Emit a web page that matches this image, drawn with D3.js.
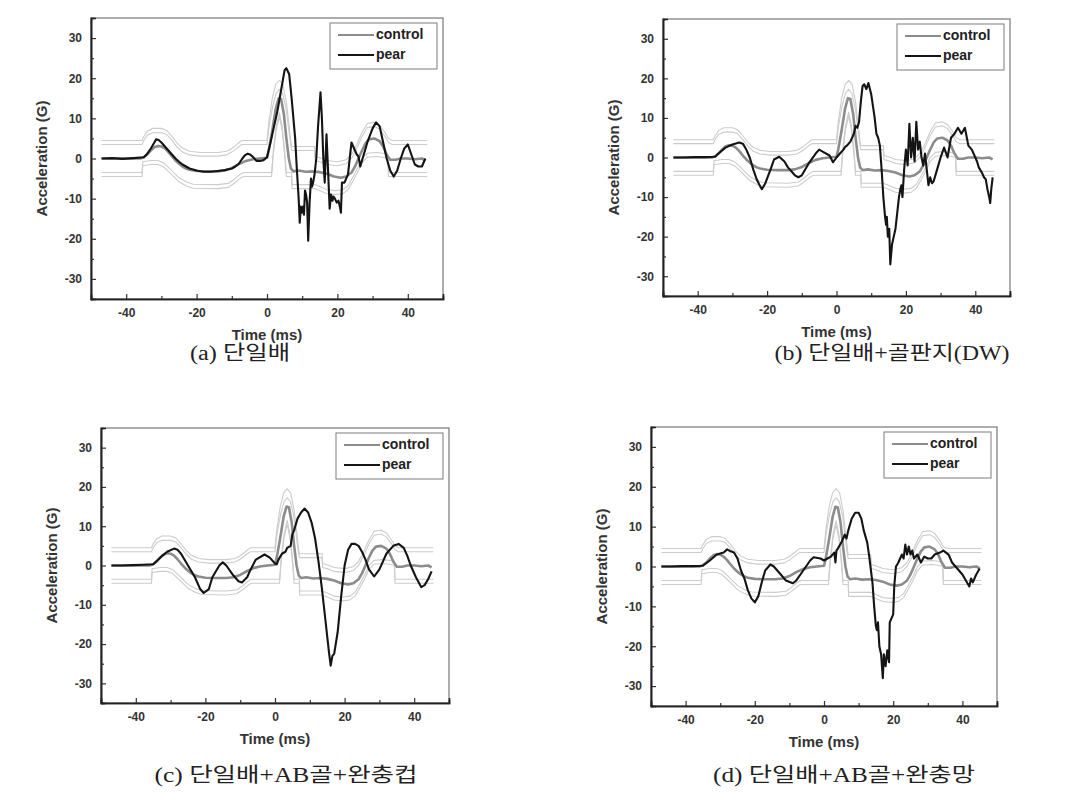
<!DOCTYPE html>
<html><head><meta charset="utf-8">
<script src="https://cdn.jsdelivr.net/npm/d3@7"></script>
<style>body{margin:0;background:#fff} svg{display:block}</style>
</head><body>
<svg id="c" width="1090" height="804"></svg>
<script>
// ---------- data ----------
const xTicks = [-40, -20, 0, 20, 40];
const xMinor = [-30, -10, 10, 30];
const yTicks = [-30, -20, -10, 0, 10, 20, 30];
const yMinor = [-25, -15, -5, 5, 15, 25];
const seriesNames = ["control", "pear"];
const xTitle = "Time (ms)";
const yTitle = "Acceleration (G)";
const captions = ["(a) 단일배", "(b) 단일배+골판지(DW)", "(c) 단일배+AB골+완충컵", "(d) 단일배+AB골+완충망"];

const control = [[-47,0],[-36,0],[-35,0.3],[-34,1],[-33,2],[-32,2.8],[-31,3.1],[-30,3],[-29,2.5],[-28,1.6],[-27,0.5],[-26,-0.5],[-25,-1.3],[-24,-2],[-23,-2.5],[-22,-2.8],[-20,-3.1],[-17,-3.2],[-14,-3.2],[-12,-3],[-10,-2.4],[-8,-1.4],[-6,-0.6],[-4,-0.2],[-2,0],[0,0.2],[0.5,2],[1.5,7],[2.5,12.5],[3.3,15],[4,14.8],[4.8,11],[5.5,5],[6.2,0],[6.8,-2.5],[7.5,-3.2],[9,-3],[11,-3.3],[13,-3.2],[15,-3.4],[17,-3.8],[19,-4.5],[21,-4.8],[22.5,-4.5],[24,-3.5],[25,-2],[26,0],[27,2],[28,3.8],[29,4.8],[30.5,5],[32,4.3],[33,3],[34,1],[35,-0.3],[36.5,-0.3],[38,0],[40,0],[42,-0.2],[44,0],[45,-0.5]];

const upperOuter = [[-47,4.5],[-35.5,4.5],[-35,5.5],[-34,6.8],[-32.5,7.5],[-30,7.5],[-28.5,7],[-27,5.5],[-25.5,3.8],[-24,2.6],[-22,1.8],[-19,1.5],[-14,1.5],[-11.5,1.8],[-10,2.5],[-8.5,3.5],[-7.5,4.3],[-7,4.5],[0,4.5],[0.5,9],[1.5,15],[2.5,18.5],[3.5,19.5],[4.5,18.5],[5.5,14],[6.3,8],[6.8,4],[7,3],[13.5,3],[13.7,0.5],[15,0.2],[17,-0.5],[20,-0.8],[22.5,-0.3],[24,1],[25.5,3.5],[27,6.5],[28.5,8.7],[30.5,9],[32,8.3],[33.5,6.5],[34.5,5],[35.5,4.5],[45.5,4.5]];
const upperInner = [[-47,3.5],[-35.5,3.5],[-35,4.5],[-34,5.8],[-32.5,6.4],[-30,6.4],[-28.5,6],[-27,4.5],[-25.5,2.8],[-24,1.6],[-22,0.9],[-19,0.6],[-14,0.6],[-11.5,0.9],[-10,1.6],[-8.5,2.6],[-7.5,3.3],[-7,3.5],[0,3.5],[0.6,8],[1.6,13],[2.6,16.3],[3.5,17.2],[4.4,16.3],[5.4,12.5],[6.2,7],[6.7,3.5],[7,2],[13.5,2],[13.7,-0.5],[15,-0.8],[17,-1.5],[20,-1.8],[22.5,-1.3],[24,0],[25.5,2.5],[27,5.5],[28.5,7.7],[30.5,8],[32,7.3],[33.5,5.5],[34.5,4],[35.5,3.5],[45.5,3.5]];
const lowerInner = [[-47,-3.5],[-35.5,-3.5],[-35.3,-0.8],[-33,-0.5],[-31,-0.5],[-29.5,-1],[-28,-2.2],[-26.5,-3.5],[-25,-4.8],[-23,-5.8],[-21,-6.4],[-14,-6.5],[-11,-6.2],[-9.5,-5.3],[-8,-4.2],[-7,-3.6],[-6.5,-3.5],[0,-3.5],[1.3,-3.5],[1.8,2],[2.6,8],[3.5,11.5],[4.3,8],[5,2],[5.5,-3.5],[7,-3.5],[7.1,-6.5],[13.5,-6.5],[15,-7],[17,-7.8],[19.5,-8],[21.5,-7.8],[23,-6.8],[24.5,-4.5],[26,-2],[27,0],[28.5,1.3],[31,1.5],[33,1.3],[34.3,1],[34.5,-3.5],[45.5,-3.5]];
const lowerOuter = [[-47,-4.5],[-35.5,-4.5],[-35.3,-1.8],[-33,-1.5],[-31,-1.5],[-29.5,-2],[-28,-3.2],[-26.5,-4.5],[-25,-5.8],[-23,-6.8],[-21,-7.4],[-14,-7.5],[-11,-7.2],[-9.5,-6.3],[-8,-5.2],[-7,-4.6],[-6.5,-4.5],[0,-4.5],[1.3,-4.5],[1.8,1],[2.6,7],[3.5,10.5],[4.3,7],[5,1],[5.5,-4.5],[7,-4.5],[7.1,-7.5],[13.5,-7.5],[15,-8],[17,-8.8],[19.5,-9],[21.5,-8.8],[23,-7.8],[24.5,-5.5],[26,-3],[27,-1],[28.5,0.3],[31,0.5],[33,0.3],[34.3,0],[34.5,-4.5],[45.5,-4.5]];

const pearA = [[-47,0],[-44,0.1],[-41,-0.1],[-38,0.1],[-35,0.3],[-34,1.2],[-33,2.5],[-32,4],[-31.5,4.8],[-30.8,4.6],[-30,4],[-29,3],[-28,2],[-27,1],[-26,0],[-25,-0.8],[-24,-1.5],[-22,-2.5],[-20,-3],[-18,-3.3],[-16,-3.3],[-14,-3.1],[-12,-2.9],[-10,-2.5],[-9,-2],[-8,-1.3],[-7,0],[-6.3,0.8],[-5.5,1.2],[-4.8,1],[-4,0.4],[-3,-0.6],[-2,-0.6],[-1,-0.4],[0,0.3],[1,4],[2,8],[3,12],[4,17],[5,22],[5.5,22.5],[6.3,21],[7,15],[8,5],[8.5,-3],[9,-10],[9.3,-16],[9.6,-12],[9.9,-13.5],[10.2,-12],[10.5,-14],[10.8,-8],[11.1,-9],[11.4,-11],[11.7,-20.5],[12.1,-11],[12.5,-5],[12.8,-7],[13.1,-6],[13.5,-4],[14,0],[14.5,8],[15.2,16.5],[15.6,10],[16,0],[16.4,-6],[16.9,6],[17.3,-2],[17.8,-12.5],[18.2,-9],[18.6,-10.5],[18.9,-9.5],[19.3,-10],[19.8,-11],[20.3,-10.5],[20.7,-12],[21,-13.5],[21.3,-6],[22,-6],[23,-4],[24,4],[24.5,3],[25,2],[25.5,1],[26,0.5],[26.5,-2],[27.5,1],[28.5,4],[30,7.5],[31,9],[32,8],[33,4],[34,0],[35,-3],[36,-4.5],[37,-3],[38,0],[39,2.5],[40,3.5],[41,1],[42,-1.5],[43,-2],[44,-2],[44.5,-1],[45,0]];

const pearB = [[-47,0],[-44,0],[-41,0.1],[-38,0.1],[-35,0.2],[-34,1],[-32,2.5],[-30,3.3],[-28,3.8],[-27,3.5],[-26,2],[-25,0],[-24,-3],[-23,-5.5],[-22,-7.3],[-21.5,-8],[-20.5,-6.5],[-19,-3],[-18,-0.5],[-16.5,0.2],[-15,-1],[-14,-2.5],[-12,-4.5],[-11,-5],[-10,-4.5],[-8,-1.5],[-6,1],[-5,2],[-4,1.5],[-2,0.5],[-1,-1.2],[0,0],[1,1],[2,2],[2.5,2.7],[3,3],[4,4],[5,6],[5.5,8],[6,7.5],[6.5,9],[7,14],[7.5,18],[8,18.5],[8.6,17.3],[9.2,18.8],[10,16],[11,10],[11.5,6],[12,5],[12.5,3],[13,-3],[13.5,-10],[14,-15],[14.3,-17],[14.5,-15],[14.8,-20],[15.2,-18],[15.5,-27],[16,-22],[16.5,-20],[17,-18],[17.5,-14],[18,-10],[18.4,-8],[18.7,-7],[19,-10],[19.5,-3],[20,2],[20.5,-2],[21,8.5],[21.5,0],[22,5],[22.5,-1],[23,9],[23.5,2],[24,4],[24.5,0],[25,-2],[25.5,1],[26,-3],[26.5,-7],[27,-5],[27.5,-6.5],[28,-6],[29,-3],[30,0],[31,2.5],[32,0],[33,5],[34,6],[35,7.5],[36,6],[37,7.5],[38,3],[39,2],[40,0],[40.5,-1],[41,-2.5],[42,-4],[42.5,-5],[43,-5.5],[43.5,-8],[44,-10],[44.3,-11.5],[44.6,-8],[45,-5]];

const pearC = [[-47,0],[-44,0],[-41,0.1],[-38,0.2],[-35,0.3],[-33,2],[-31,3.5],[-29,4.3],[-28,4],[-27,3],[-25,0],[-23,-3],[-21.5,-6],[-20.5,-7],[-19,-6],[-18,-3],[-16,0],[-15,0.8],[-14,0],[-12,-2.5],[-10.5,-4],[-9.5,-4.3],[-8,-3],[-7,-1],[-5.5,1.5],[-3,2.8],[-1.5,2],[0,0.5],[0.5,0.3],[1,1.5],[2,3],[3,3.5],[3.5,4.5],[4.5,5],[5,8],[5.5,9],[6,10.5],[6.5,12],[7.5,13.5],[8.5,14.5],[9.5,13.5],[10.5,11],[11.5,7],[12.5,1],[13.5,-6],[14.5,-14],[15.5,-22],[16,-25.5],[16.5,-23],[17,-22.5],[18,-17],[19,-8],[20,0],[21,4],[22,5.5],[23,5.5],[24,5],[25,3.5],[26,1.5],[27,-1],[28.5,-2.8],[30,-1],[31,1],[32,3],[34,5],[35.5,5.5],[37,4.5],[38,2.5],[39,0],[40.5,-3],[42,-5.5],[43,-5],[44,-3.5],[45,-1.5]];

const pearD = [[-47,0],[-44,0],[-41,0.1],[-38,0.1],[-35,0.2],[-33,1.5],[-31,3],[-29,3.5],[-28,4.3],[-27,3.8],[-26,3.5],[-25,2],[-24,-1],[-23,-3],[-22,-6],[-21,-8],[-20,-9],[-19,-7.5],[-18,-4],[-17,-1],[-15.5,0.5],[-14.5,0],[-13,-1.5],[-11,-3.5],[-9,-4.2],[-8,-3.5],[-6,-1],[-4,1.5],[-3,2.3],[-1,2],[0,1.5],[1,2],[2,2.5],[3,3.5],[3.3,1],[3.6,4],[4,4.5],[5,6],[6,8],[6.5,7],[7,9],[8,12],[9,13.5],[10,13.5],[10.8,12],[11.5,9],[12.5,6],[13,3],[14,-4],[14.5,-10],[15,-15],[15.3,-16],[15.6,-14],[16,-20],[16.5,-22],[17,-28],[17.3,-22],[17.8,-25],[18.3,-21],[18.8,-24],[19,-14],[19.5,-13],[20,-12],[20.3,-5],[20.8,0],[21.5,1],[22,2],[22.5,3],[23,2],[23.5,5.5],[24,3],[24.5,5],[25,3],[25.5,4],[26,2],[27,3],[28,1],[29,2.5],[30,2],[31,2],[32,3],[33.5,3.5],[34.5,4],[36,3],[37,1],[38,0],[39,-1],[40,-2],[41,-3.5],[42,-5],[42.5,-3],[43,-4],[44,-2],[45,-0.5]];

const pears = [pearA, pearB, pearC, pearD];

// ---------- layout (pixels) ----------
const panels = [
  {x0: 91,  x1: 443, y0: 18,  y1: 299, cap: [240, 355], capW: 100},
  {x0: 663, x1: 1010, y0: 19, y1: 296, cap: [892, 355], capW: 235},
  {x0: 101, x1: 449, y0: 428, y1: 703, cap: [286, 777], capW: 263},
  {x0: 651, x1: 997, y0: 427, y1: 706, cap: [844, 777], capW: 262}
];

const svg = d3.select("#c");
const tickFont = "Arial, 'Liberation Sans', sans-serif";

panels.forEach((p, i) => {
  const x = d3.scaleLinear().domain([-50, 50]).range([p.x0, p.x1]);
  const y = d3.scaleLinear().domain([-35, 35]).range([p.y1, p.y0]);
  const g = svg.append("g");
  const line = d3.line().x(d => x(d[0])).y(d => y(d[1]));

  // frame
  g.append("rect").attr("x", p.x0).attr("y", p.y0).attr("width", p.x1 - p.x0).attr("height", p.y1 - p.y0)
    .attr("fill", "none").attr("stroke", "#777").attr("stroke-width", 1.2);

  // corridor lines
  [upperOuter, upperInner, lowerInner, lowerOuter].forEach(c => {
    g.append("path").attr("d", line(c)).attr("fill", "none").attr("stroke", "#cccccc").attr("stroke-width", 1.1);
  });
  // control
  g.append("path").attr("d", line(control)).attr("fill", "none").attr("stroke", "#8c8c8c").attr("stroke-width", 2.6).attr("stroke-linejoin", "round");
  // pear
  g.append("path").attr("d", line(pears[i])).attr("fill", "none").attr("stroke", "#141414").attr("stroke-width", 2.1).attr("stroke-linejoin", "round");

  // axes
  const fmt = d => String(d);
  const xAx = g.append("g").attr("transform", `translate(0,${p.y1})`)
    .call(d3.axisBottom(x).tickValues(xTicks).tickSize(-5).tickPadding(9).tickFormat(fmt));
  const xAxMinor = g.append("g").attr("transform", `translate(0,${p.y1})`)
    .call(d3.axisBottom(x).tickValues(xMinor).tickSize(-3).tickFormat(""));
  const yAx = g.append("g").attr("transform", `translate(${p.x0},0)`)
    .call(d3.axisLeft(y).tickValues(yTicks).tickSize(-5).tickPadding(9).tickFormat(fmt));
  const yAxMinor = g.append("g").attr("transform", `translate(${p.x0},0)`)
    .call(d3.axisLeft(y).tickValues(yMinor).tickSize(-3).tickFormat(""));
  [xAx, xAxMinor, yAx, yAxMinor].forEach(a => {
    a.select(".domain").attr("stroke", "#222").attr("stroke-width", 1.6);
    a.selectAll(".tick line").attr("stroke", "#333").attr("stroke-width", 1.2);
    a.selectAll(".tick text").attr("font-family", tickFont).attr("font-weight", "bold").attr("font-size", 12).attr("fill", "#333");
  });

  // titles
  g.append("text").attr("x", (p.x0 + p.x1) / 2).attr("y", p.y1 + 37)
    .attr("text-anchor", "middle").attr("dominant-baseline", "middle")
    .attr("font-family", tickFont).attr("font-weight", "bold").attr("font-size", 15).attr("fill", "#333").text(xTitle);
  g.append("text").attr("transform", `translate(${p.x0 - 48},${(p.y0 + p.y1) / 2}) rotate(-90)`)
    .attr("text-anchor", "middle").attr("dominant-baseline", "middle")
    .attr("font-family", tickFont).attr("font-weight", "bold").attr("font-size", 15).attr("fill", "#333").text(yTitle);

  // legend
  const lx = p.x1 - 6 - 107, ly = p.y0 + 5;
  const lg = g.append("g").attr("transform", `translate(${lx},${ly})`);
  lg.append("rect").attr("width", 107).attr("height", 46).attr("fill", "#fff").attr("stroke", "#888").attr("stroke-width", 1.1);
  const legStyles = [{c: "#8c8c8c", w: 2}, {c: "#141414", w: 2.2}];
  seriesNames.forEach((n, k) => {
    const yy = 12 + k * 20;
    lg.append("line").attr("x1", 8).attr("x2", 44).attr("y1", yy).attr("y2", yy)
      .attr("stroke", legStyles[k].c).attr("stroke-width", legStyles[k].w);
    lg.append("text").attr("x", 46).attr("y", yy).attr("dominant-baseline", "middle")
      .attr("font-family", tickFont).attr("font-weight", "bold").attr("font-size", 14).attr("fill", "#222").text(n);
  });

  // caption
  svg.append("text").attr("x", p.cap[0]).attr("y", p.cap[1]).attr("text-anchor", "middle").attr("dominant-baseline", "middle")
    .attr("font-family", "'Liberation Serif', 'Noto Sans CJK KR', serif").attr("font-size", 20).attr("fill", "#222")
    .attr("textLength", p.capW).attr("lengthAdjust", "spacingAndGlyphs").text(captions[i]);
});
</script>
</body></html>
